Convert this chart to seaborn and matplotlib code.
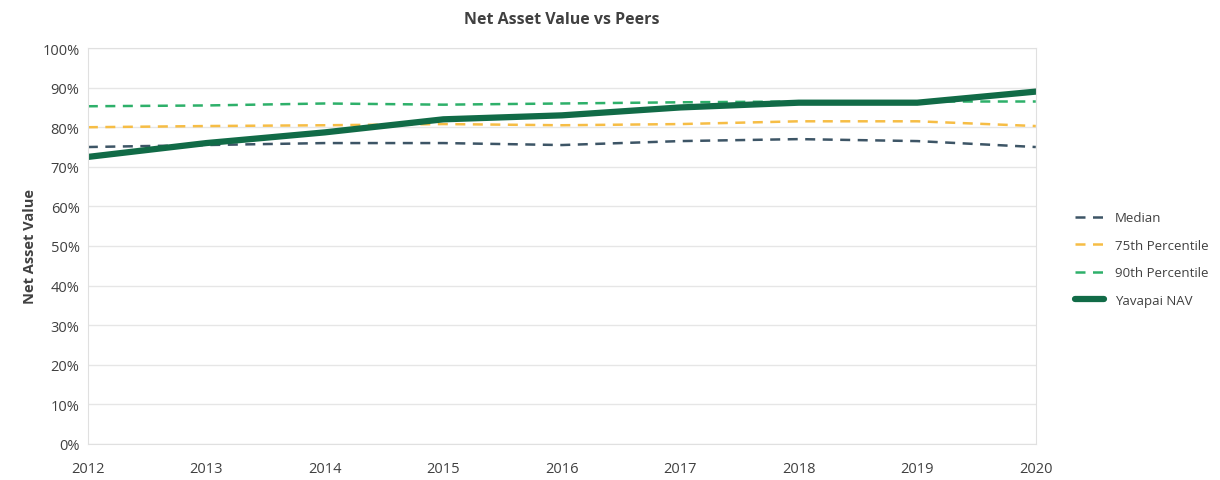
import matplotlib.pyplot as plt
import pandas as pd
import seaborn as sns
from matplotlib.ticker import PercentFormatter

years = [2012, 2013, 2014, 2015, 2016, 2017, 2018, 2019, 2020]
median = [75.0, 75.5, 76.0, 76.0, 75.5, 76.5, 77.0, 76.5, 75.0]
pct75 = [80.0, 80.3, 80.5, 80.8, 80.5, 80.8, 81.5, 81.5, 80.3]
pct90 = [85.3, 85.5, 86.0, 85.7, 86.0, 86.3, 86.5, 86.5, 86.5]
nav = [72.5, 76.0, 78.7, 82.0, 83.0, 85.0, 86.2, 86.2, 89.0]

series = {
    'Median': median,
    '75th Percentile': pct75,
    '90th Percentile': pct90,
    'Yavapai NAV': nav,
}
colors = {
    'Median': '#3d5566',
    '75th Percentile': '#f6bd45',
    '90th Percentile': '#2eb06a',
    'Yavapai NAV': '#116b47',
}

df = pd.DataFrame([
    {'Year': y, 'Series': name, 'Value': v}
    for name, vals in series.items() for y, v in zip(years, vals)
])

sns.set_style('white')
plt.rcParams['font.family'] = ['Open Sans', 'DejaVu Sans']

fig = plt.figure(figsize=(12.2, 4.81), dpi=100)
ax = fig.add_axes([0.072, 0.075, 0.777, 0.823])

for name in series:
    sub = df[df['Series'] == name]
    dashed = name != 'Yavapai NAV'
    sns.lineplot(data=sub, x='Year', y='Value', ax=ax, color=colors[name],
                 linewidth=1.8 if dashed else 4.5,
                 linestyle=(0, (4, 3)) if dashed else '-',
                 label=name)

ax.set_xlim(2012, 2020)
ax.set_ylim(0, 100)
ax.set_xticks(years)
ax.set_yticks(range(0, 101, 10))
ax.yaxis.set_major_formatter(PercentFormatter(decimals=0))
ax.grid(axis='y', color='#e6e6e6', linewidth=1)
for s in ax.spines.values():
    s.set_color('#e0e0e0')
ax.tick_params(axis='x', length=0, pad=12, labelsize=10.5, labelcolor='#404040')
ax.tick_params(axis='y', length=0, pad=6, labelsize=10.5, labelcolor='#404040')
ax.set_xlabel('')
ax.set_ylabel('Net Asset Value', fontsize=10.5, fontweight='bold', color='#404040')
ax.set_title('Net Asset Value vs Peers', fontsize=11.5, fontweight='bold',
             color='#404040', pad=18)

ax.legend(loc='center left', bbox_to_anchor=(1.029, 0.467), frameon=False,
          fontsize=9.5, labelcolor='#404040', handlelength=2.2, labelspacing=1.1)

fig.savefig('out.png', dpi=100)
